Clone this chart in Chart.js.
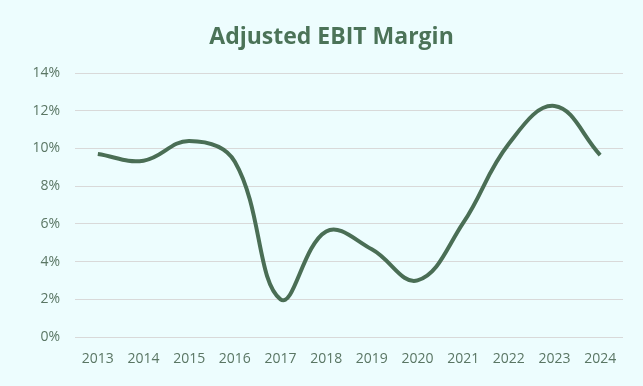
<!DOCTYPE html>
<html>
<head>
<meta charset="utf-8">
<script src="https://cdn.jsdelivr.net/npm/chart.js@4/dist/chart.umd.min.js"></script>
<style>
  html, body { margin: 0; padding: 0; background: #EDFDFE; }
  #wrap { width: 643px; height: 386px; position: relative; }
</style>
</head>
<body>
<div id="wrap"><canvas id="c" width="643" height="386"></canvas></div>
<script>
const years = ["2013","2014","2015","2016","2017","2018","2019","2020","2021","2022","2023","2024"];
const margin = [9.7, 9.35, 10.4, 9.3, 2.0, 5.6, 4.65, 3.0, 6.05, 10.25, 12.25, 9.65];
const yTicks = [0, 2, 4, 6, 8, 10, 12, 14];
const titleText = "Adjusted EBIT Margin";

const lineColor = "#4A6E55";
const textColor = "#5A7664";

// Title drawn slightly right of canvas centre, as in the reference
const titlePlugin = {
  id: "offsetTitle",
  afterDraw(chart) {
    const ctx = chart.ctx;
    ctx.save();
    ctx.font = "bold 23px 'Open Sans', sans-serif";
    ctx.fillStyle = "#4B7358";
    ctx.textAlign = "center";
    ctx.textBaseline = "middle";
    ctx.fillText(titleText, chart.width / 2 + 10, 37);
    ctx.restore();
  }
};

new Chart(document.getElementById("c"), {
  type: "line",
  data: {
    labels: years,
    datasets: [{
      label: "Adjusted EBIT Margin",
      data: margin,
      borderColor: lineColor,
      borderWidth: 4,
      tension: 0.4,
      pointRadius: 0,
      fill: false,
      borderCapStyle: "butt"
    }]
  },
  plugins: [titlePlugin],
  options: {
    responsive: false,
    animation: false,
    layout: { padding: { left: 20, right: 20, top: 73, bottom: 0 } },
    plugins: {
      legend: { display: false },
      tooltip: { enabled: false },
      title: { display: false }
    },
    scales: {
      x: {
        offset: true,
        grid: { display: false, drawTicks: false },
        border: { display: false },
        ticks: {
          color: textColor,
          font: { family: "'Open Sans', sans-serif", size: 14 },
          padding: 14,
          maxRotation: 0,
          autoSkip: false
        },
        afterFit: (s) => { s.height = 49; }
      },
      y: {
        min: 0,
        max: 14,
        afterBuildTicks: (s) => { s.ticks = yTicks.map(v => ({ value: v })); },
        grid: { color: "#D9D9D9", lineWidth: 1, drawTicks: false },
        border: { display: false },
        ticks: {
          color: textColor,
          font: { family: "'Open Sans', sans-serif", size: 14 },
          padding: 15,
          callback: (v) => v + "%"
        },
        afterFit: (s) => { s.width = 55; }
      }
    }
  }
});
</script>
</body>
</html>
